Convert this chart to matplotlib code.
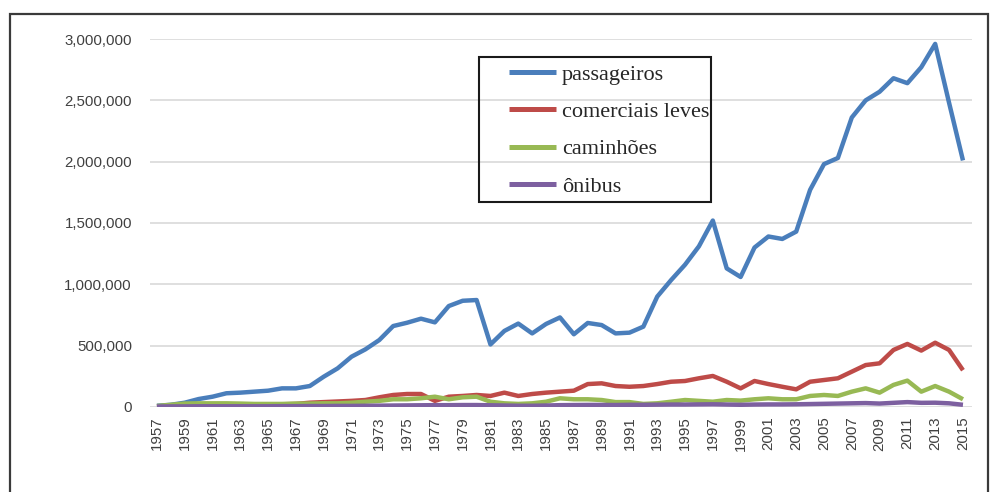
import matplotlib
matplotlib.use("Agg")
import matplotlib.pyplot as plt
from matplotlib.patches import Rectangle
from matplotlib.ticker import FuncFormatter

years = list(range(1957, 2016))

# values (vehicles per year)
passageiros = [
    10e3, 18e3, 35e3, 65e3, 84e3, 112e3, 117e3, 125e3, 133e3, 152e3,
    152e3, 171e3, 247e3, 315e3, 410e3, 470e3, 546e3, 660e3, 687e3, 720e3,
    690e3, 823e3, 866e3, 872e3, 510e3, 620e3, 680e3, 600e3, 677e3, 730e3,
    593e3, 685e3, 668e3, 600e3, 606e3, 655e3, 900e3, 1035e3, 1160e3, 1310e3,
    1520e3, 1130e3, 1060e3, 1300e3, 1390e3, 1370e3, 1430e3, 1770e3, 1980e3, 2030e3,
    2360e3, 2500e3, 2570e3, 2680e3, 2640e3, 2770e3, 2960e3, 2480e3, 2010e3,
]
comerciais_leves = [
    5e3, 10e3, 15e3, 20e3, 20e3, 20e3, 20e3, 18e3, 20e3, 22e3,
    25e3, 35e3, 40e3, 45e3, 50e3, 57e3, 79e3, 98e3, 106e3, 106e3,
    50e3, 84e3, 90e3, 98e3, 90e3, 117e3, 90e3, 106e3, 117e3, 125e3,
    133e3, 187e3, 193e3, 171e3, 165e3, 171e3, 187e3, 206e3, 212e3, 234e3,
    253e3, 206e3, 152e3, 212e3, 187e3, 165e3, 144e3, 206e3, 220e3, 234e3,
    288e3, 342e3, 356e3, 465e3, 514e3, 460e3, 524e3, 465e3, 300e3,
]
caminhoes = [
    8e3, 18e3, 28e3, 30e3, 30e3, 30e3, 28e3, 25e3, 25e3, 25e3,
    28e3, 28e3, 30e3, 30e3, 35e3, 43e3, 50e3, 63e3, 63e3, 71e3,
    84e3, 63e3, 79e3, 84e3, 43e3, 30e3, 25e3, 30e3, 43e3, 71e3,
    63e3, 63e3, 57e3, 40e3, 40e3, 25e3, 30e3, 43e3, 57e3, 50e3,
    43e3, 57e3, 52e3, 63e3, 71e3, 63e3, 63e3, 90e3, 98e3, 90e3,
    125e3, 152e3, 117e3, 180e3, 215e3, 125e3, 171e3, 125e3, 63e3,
]
onibus = [
    4e3, 5e3, 5e3, 6e3, 6e3, 6e3, 6e3, 6e3, 6e3, 7e3,
    7e3, 8e3, 8e3, 9e3, 9e3, 10e3, 11e3, 12e3, 13e3, 14e3,
    15e3, 15e3, 16e3, 16e3, 14e3, 12e3, 10e3, 10e3, 12e3, 15e3,
    16e3, 17e3, 17e3, 16e3, 18e3, 18e3, 19e3, 20e3, 20e3, 21e3,
    22e3, 20e3, 18e3, 20e3, 21e3, 21e3, 22e3, 24e3, 26e3, 28e3,
    30e3, 32e3, 28e3, 34e3, 40e3, 34e3, 35e3, 30e3, 18e3,
]

series = [
    ("passageiros", passageiros, "#4A7EBB"),
    ("comerciais leves", comerciais_leves, "#BE4B48"),
    ("caminhões", caminhoes, "#98B954"),
    ("ônibus", onibus, "#7D60A0"),
]

W, H = 990, 492
fig = plt.figure(figsize=(W / 100, H / 100), dpi=100)

# outer frame around the whole chart
fig.patches.append(Rectangle((10 / W, -0.02), 978 / W, 1.02 - 14 / H,
                             transform=fig.transFigure, fill=False,
                             edgecolor="#3a3a3a", linewidth=1.6))

ax = fig.add_axes([150 / W, 85 / H, 822 / W, 368 / H])
for name, vals, color in series:
    ax.plot(years, vals, color=color, lw=3.2, label=name, solid_capstyle="butt")

ax.set_xlim(1956.5, 2015.65)
ax.set_ylim(0, 3_000_000)
ax.set_yticks(range(0, 3_000_001, 500_000))
ax.yaxis.set_major_formatter(FuncFormatter(lambda v, _: f"{v:,.0f}"))
ax.set_xticks(years[::2])
ax.tick_params(axis="x", labelrotation=90, length=0, pad=7)
ax.tick_params(axis="y", length=0, pad=13)
for lab in ax.get_xticklabels() + ax.get_yticklabels():
    lab.set_fontfamily("Liberation Sans")
    lab.set_fontsize(10.8)
    lab.set_color("#404040")

ax.grid(axis="y", color="#d9d9d9", lw=1.2)
ax.set_axisbelow(True)
for s in ax.spines.values():
    s.set_visible(False)

leg = fig.legend(loc="upper left", bbox_to_anchor=(509 / W, 1 - 64 / H),
                 frameon=False, borderpad=0, borderaxespad=0,
                 handlelength=2.1, handletextpad=0.27, labelspacing=0.76,
                 prop={"family": "Liberation Serif", "size": 16})
for line in leg.get_lines():
    line.set_linewidth(3.6)
for t in leg.get_texts():
    t.set_color("#262626")

fig.patches.append(Rectangle((479 / W, 1 - 202 / H), 232 / W, 145 / H,
                             transform=fig.transFigure, fill=False,
                             edgecolor="#1a1a1a", linewidth=1.5))

fig.savefig("out.png", dpi=100, facecolor="white")
